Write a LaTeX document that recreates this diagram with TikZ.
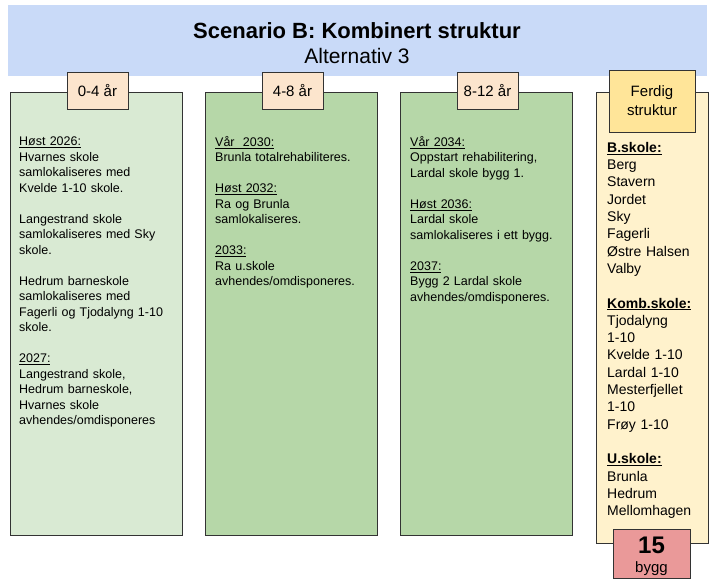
\documentclass[tikz,border=0pt]{standalone}
\usepackage{fontspec}
\setmainfont{Liberation Sans}
\usepackage{xcolor}
\definecolor{banner}{HTML}{C9DAF8}
\definecolor{gA}{HTML}{D9EAD3}
\definecolor{gB}{HTML}{B6D7A8}
\definecolor{yel}{HTML}{FFF2CC}
\definecolor{peach}{HTML}{FCE5CD}
\definecolor{gold}{HTML}{FFE599}
\definecolor{rose}{HTML}{EA9999}
\definecolor{bd}{HTML}{333333}
\begin{document}
\begin{tikzpicture}[x=1pt,y=-1pt,
  col/.style={draw=bd,line width=0.8pt},
  lbl/.style={draw=bd,line width=0.8pt,fill=peach,font=\fontsize{15}{18}\selectfont,align=center},
  body/.style={anchor=north west,align=left,inner sep=0pt,text width=165pt,font=\fontsize{12.5}{15.5}\selectfont},
  body4/.style={anchor=north west,align=left,inner sep=0pt,text width=100pt,font=\fontsize{14}{17.3}\selectfont}]
\useasboundingbox (0,0) rectangle (720,583);
\fill[banner] (8,5) rectangle (707,76);
\node (title) at (357,31) {\fontsize{22}{26}\selectfont\bfseries Scenario B: Kombinert struktur};
\node (sub) at (357,56) {\fontsize{21}{25}\selectfont Alternativ 3};
\filldraw[col,fill=gA] (10,92) rectangle (182,535);
\filldraw[col,fill=gB] (205,92) rectangle (377,535);
\filldraw[col,fill=gB] (400,92) rectangle (572,535);
\filldraw[col,fill=yel] (596,92) rectangle (708,543);
\node[lbl,minimum width=61pt,minimum height=37pt] (l1) at (97.5,90.5) {0-4 år};
\node[lbl,minimum width=61pt,minimum height=37pt] (l2) at (292.5,90.5) {4-8 år};
\node[lbl,minimum width=61pt,minimum height=37pt] (l3) at (487.5,90.5) {8-12 år};
\node[lbl,fill=gold,minimum width=86pt,minimum height=62pt] (l4) at (652,101) {Ferdig\\[1pt]struktur};
\node[body] (t1) at (19,137) {\underline{Høst 2026:}\\Hvarnes skole\\samlokaliseres med\\Kvelde 1-10 skole.\\[15.5pt]Langestrand skole\\samlokaliseres med Sky\\skole.\\[15.5pt]Hedrum barneskole\\samlokaliseres med\\Fagerli og Tjodalyng 1-10\\skole.\\[15.5pt]\underline{2027:}\\Langestrand skole,\\Hedrum barneskole,\\Hvarnes skole\\avhendes/omdisponeres};
\node[body] (t2) at (215,136) {\underline{Vår\ \ 2030:}\\Brunla totalrehabiliteres.\\[15.5pt]\underline{Høst 2032:}\\Ra og Brunla\\samlokaliseres.\\[15.5pt]\underline{2033:}\\Ra u.skole\\avhendes/omdisponeres.};
\node[body] (t3) at (410,136) {\underline{Vår 2034:}\\Oppstart rehabilitering,\\Lardal skole bygg 1.\\[15.5pt]\underline{Høst 2036:}\\Lardal skole\\samlokaliseres i ett bygg.\\[15.5pt]\underline{2037:}\\Bygg 2 Lardal skole\\avhendes/omdisponeres.};
\node[body4] (t4) at (607,142) {\textbf{\underline{B.skole:}}\\Berg\\Stavern\\Jordet\\Sky\\Fagerli\\Østre Halsen\\Valby\\[17.3pt]\textbf{\underline{Komb.skole:}}\\Tjodalyng\\1-10\\Kvelde 1-10\\Lardal 1-10\\Mesterfjellet\\1-10\\Frøy 1-10\\[17.3pt]\textbf{\underline{U.skole:}}\\Brunla\\Hedrum\\Mellomhagen};
\node[draw=bd,line width=0.8pt,fill=rose,minimum width=77pt,minimum height=49pt] (cnt) at (651.5,553.5) {};
\node[font=\fontsize{24}{26}\selectfont\bfseries] (n15) at (651.5,545) {15};
\node[font=\fontsize{15}{17}\selectfont] (bygg) at (651.5,569) {bygg};
\end{tikzpicture}
\end{document}
